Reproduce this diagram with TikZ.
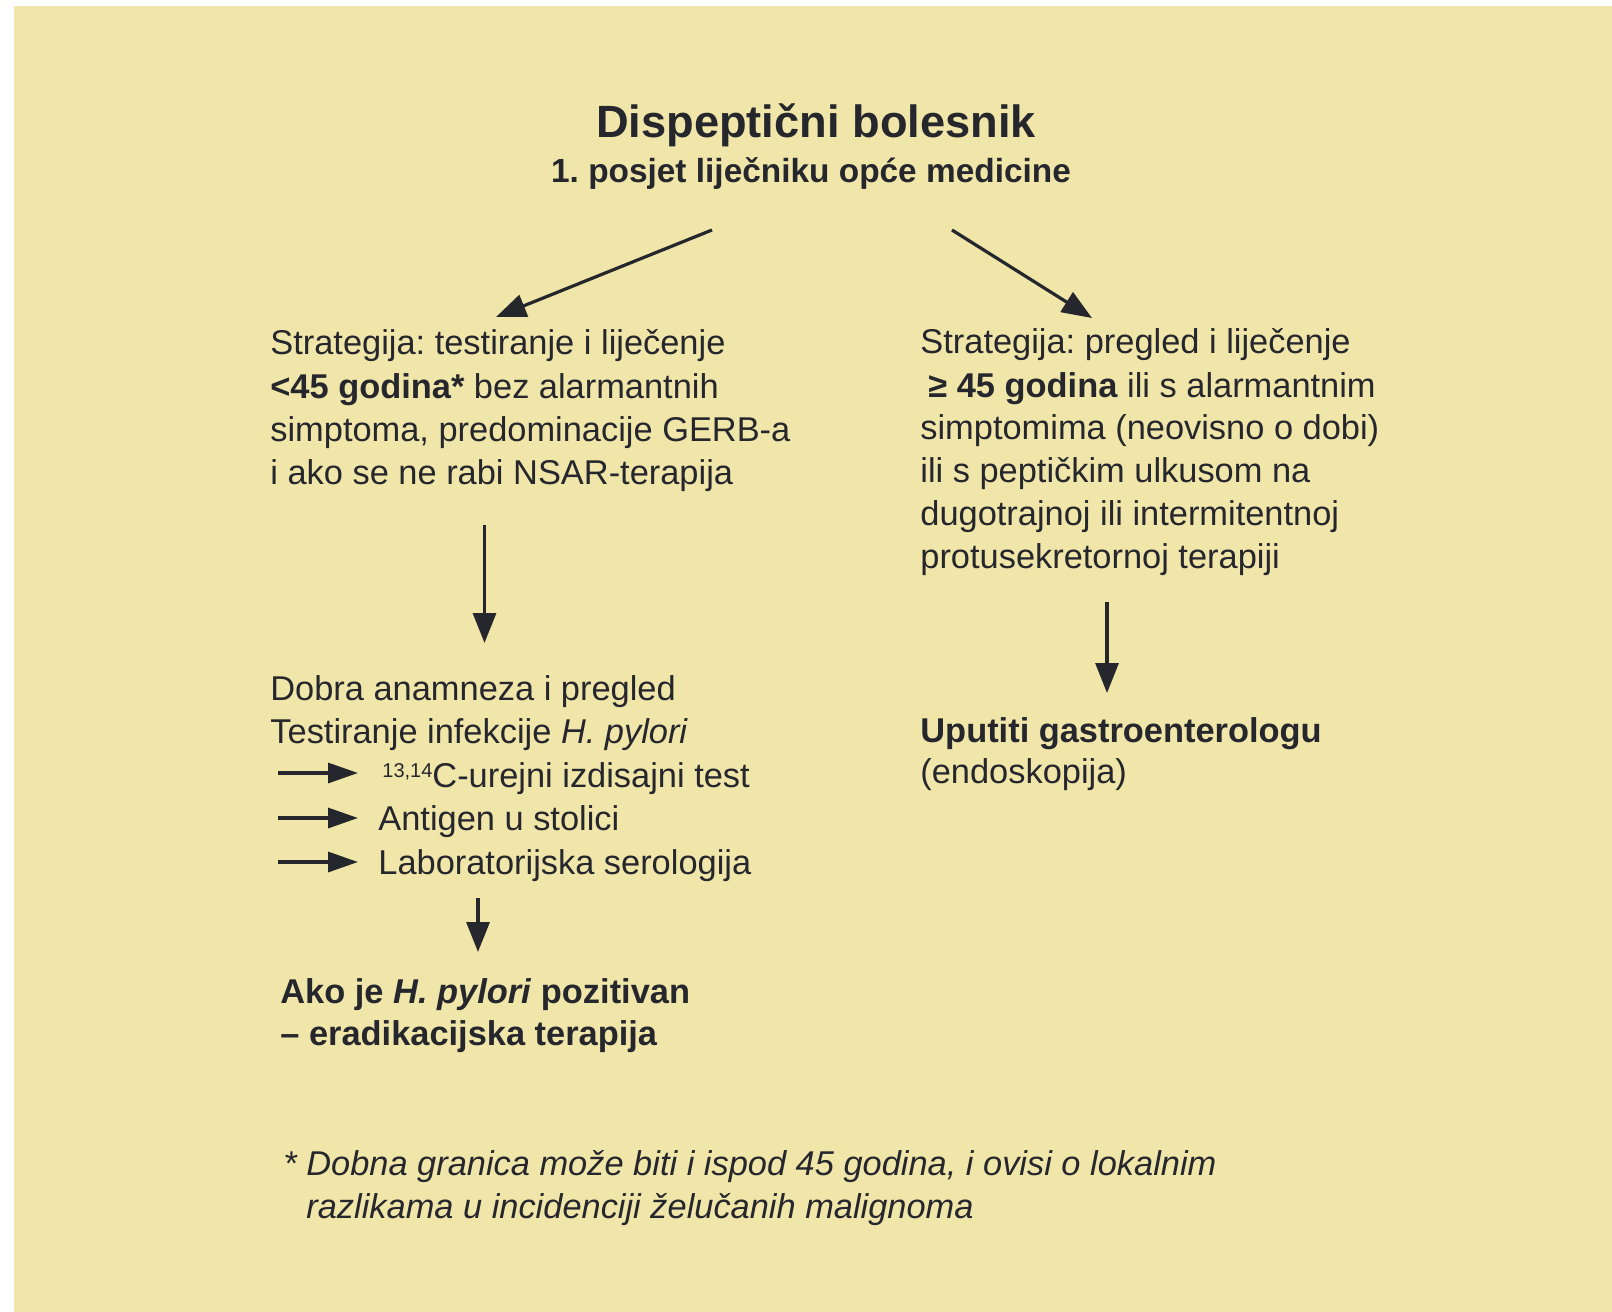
\documentclass[tikz,border=0pt]{standalone}
\usepackage{fontspec}
\setmainfont{Liberation Sans}
\usetikzlibrary{arrows.meta}
\definecolor{bgyellow}{RGB}{240,230,170}
\definecolor{ink}{RGB}{38,38,45}
\frenchspacing
\begin{document}
\frenchspacing
\begin{tikzpicture}[x=0.5pt,y=-0.5pt,
  txt/.style={inner sep=0pt, anchor=base west, text=ink, font=\fontsize{17.2}{21}\selectfont},
  ttl/.style={inner sep=0pt, anchor=base, text=ink, font=\bfseries\fontsize{22.6}{27}\selectfont},
  sub/.style={inner sep=0pt, anchor=base, text=ink, font=\bfseries\fontsize{16.7}{20}\selectfont},
  arr/.style={draw=ink, line width=1.6pt, -{Triangle[length=15pt,width=11.5pt]}},
  harr/.style={draw=ink, line width=1.6pt, -{Triangle[length=15pt,width=10pt]}}]
\useasboundingbox (0,0) rectangle (1612,1312);
\fill[white] (0,0) rectangle (1612,1312);
\fill[bgyellow] (14,6) rectangle (1612,1312);

% title
\node[ttl] (title) at (816,137) {Dispeptični bolesnik};
\node[sub] (subtitle) at (811,182) {1. posjet liječniku opće medicine};

% diagonal arrows
\coordinate (lstart) at (712,230);
\coordinate (lend) at (496,317);
\coordinate (rstart) at (952,230);
\coordinate (rend) at (1092,318);
\draw[arr] (lstart) -- (lend);
\draw[arr] (rstart) -- (rend);

% left block
\node[txt] (l1) at (270,354) {Strategija: testiranje i liječenje};
\node[txt] (l2) at (270,398) {\textbf{<45 godina*} bez alarmantnih};
\node[txt] (l3) at (270,441) {simptoma, predominacije GERB-a};
\node[txt] (l4) at (270,484) {i ako se ne rabi NSAR-terapija};

% right block
\node[txt] (r1) at (920,353) {Strategija: pregled i liječenje};
\node[txt] (r2) at (928,397) {\textbf{≥ 45 godina} ili s alarmantnim};
\node[txt] (r3) at (920,439) {simptomima (neovisno o dobi)};
\node[txt] (r4) at (920,482) {ili s peptičkim ulkusom na};
\node[txt] (r5) at (920,525) {dugotrajnoj ili intermitentnoj};
\node[txt] (r6) at (920,568) {protusekretornoj terapiji};

% vertical arrows
\coordinate (lvs) at (484.5,525);
\coordinate (lve) at (484.5,643);
\draw[arr] (lvs) -- (lve);
\coordinate (rvs) at (1107,602);
\coordinate (rve) at (1107,693);
\draw[arr] (rvs) -- (rve);

% left lower block
\node[txt] (d1) at (270,700) {Dobra anamneza i pregled};
\node[txt] (d2) at (270,743) {Testiranje infekcije \textit{H. pylori}};
\node[txt] (i1) at (382,787) {\raisebox{5pt}{\fontsize{10}{10}\selectfont 13,14}C-urejni izdisajni test};
\node[txt] (i2) at (378,830) {Antigen u stolici};
\node[txt] (i3) at (378,874) {Laboratorijska serologija};
\coordinate (h1s) at (278,773); \coordinate (h1e) at (358,773);
\coordinate (h2s) at (278,818); \coordinate (h2e) at (358,818);
\coordinate (h3s) at (278,862); \coordinate (h3e) at (358,862);
\draw[harr] (h1s) -- (h1e);
\draw[harr] (h2s) -- (h2e);
\draw[harr] (h3s) -- (h3e);

\coordinate (sds) at (478,898);
\coordinate (sde) at (478,952);
\draw[arr] (sds) -- (sde);

\node[txt] (e1) at (280,1003) {\textbf{Ako je \textit{H. pylori} pozitivan}};
\node[txt] (e2) at (280,1045) {\textbf{– eradikacijska terapija}};

% right lower
\node[txt] (u1) at (920,742) {\textbf{Uputiti gastroenterologu}};
\node[txt] (u2) at (920,783) {(endoskopija)};

% footnote
\node[txt] (f1) at (283,1175) {\textit{* Dobna granica može biti i ispod 45 godina, i ovisi o lokalnim}};
\node[txt] (f2) at (306,1218) {\textit{razlikama u incidenciji želučanih malignoma}};
\end{tikzpicture}
\end{document}
